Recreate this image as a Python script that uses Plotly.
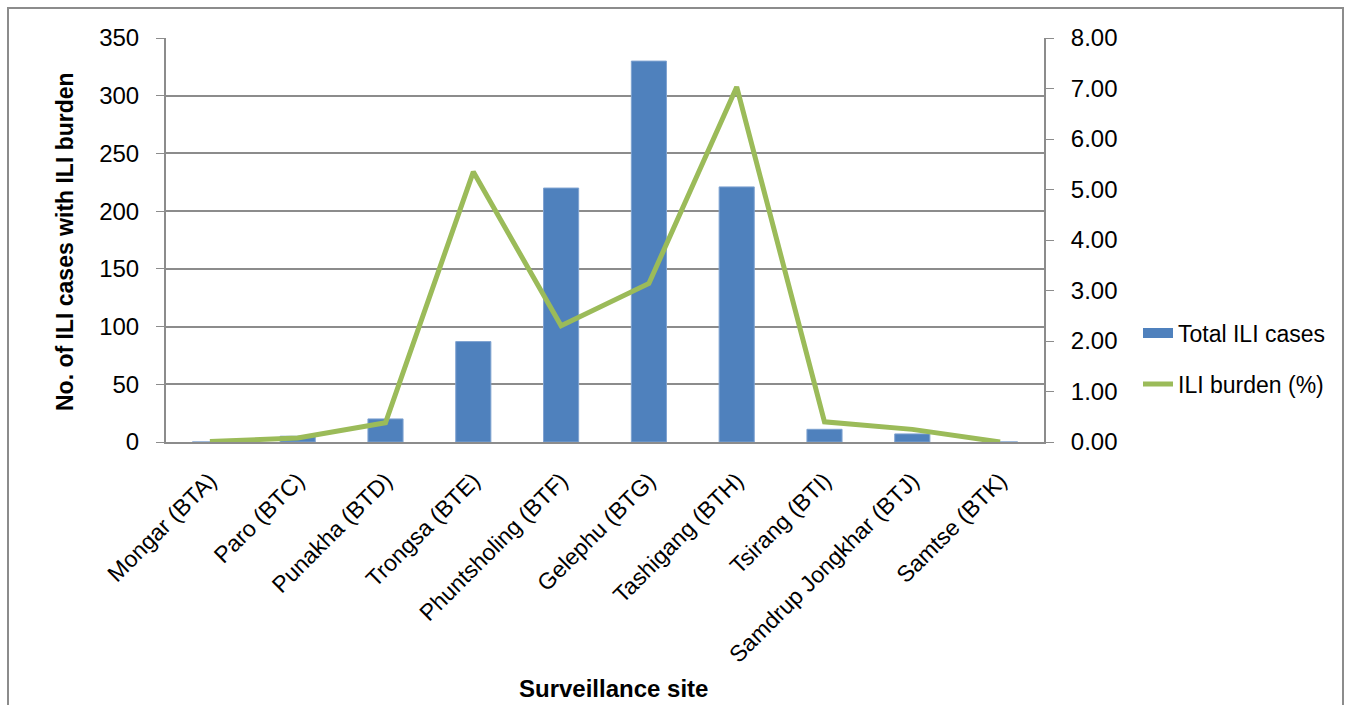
import plotly.graph_objects as go

sites = ["Mongar (BTA)", "Paro (BTC)", "Punakha (BTD)", "Trongsa (BTE)",
         "Phuntsholing (BTF)", "Gelephu (BTG)", "Tashigang (BTH)",
         "Tsirang (BTI)", "Samdrup Jongkhar (BTJ)", "Samtse (BTK)"]
total_cases = [0, 5, 20, 87, 220, 330, 221, 11, 7, 0]
burden_pct = [0.01, 0.08, 0.38, 5.35, 2.30, 3.14, 7.03, 0.40, 0.25, 0.0]

left_ticks = [0, 50, 100, 150, 200, 250, 300, 350]
right_ticks = [0, 1, 2, 3, 4, 5, 6, 7, 8]

W, H = 1351, 705
L, R, T, B = 166, 1044, 38, 442
FONT = "Liberation Sans, Arial, sans-serif"
GRID = "#8c8c8c"
BLUE = "#4F81BD"
GREEN = "#9BBB59"

pw, ph = R - L, B - T
def px_x(p):
    return (p - L) / pw
def px_y(p):
    return (B - p) / ph

fig = go.Figure()
fig.add_trace(go.Bar(
    x=sites, y=total_cases, name="Total ILI cases",
    marker=dict(color=BLUE, line=dict(color="#7FA3D1", width=1)),
    width=0.4, yaxis="y", showlegend=False,
))
fig.add_trace(go.Scatter(
    x=sites, y=burden_pct, name="ILI burden (%)", mode="lines",
    line=dict(color=GREEN, width=5), yaxis="y2", legend="legend2",
))
# legend key for the bars: a wide filled swatch
fig.add_trace(go.Scatter(
    x=[None], y=[None], name="Total ILI cases", mode="lines",
    line=dict(color=BLUE, width=15), legend="legend",
))

legend_common = dict(xanchor="left", yanchor="middle", font=dict(size=23),
                     bgcolor="rgba(0,0,0,0)", itemwidth=30)

fig.update_layout(
    width=W, height=H,
    margin=dict(l=L, r=W - R, t=T, b=H - B),
    paper_bgcolor="white", plot_bgcolor="white",
    font=dict(family=FONT, size=22, color="#000000"),
    showlegend=True,
    legend=dict(x=px_x(1138), y=px_y(333), **legend_common),
    legend2=dict(x=px_x(1138), y=px_y(384), **legend_common),
    xaxis=dict(
        showline=True, linecolor=GRID, linewidth=2,
        ticks="", tickangle=-45, tickfont=dict(size=23),
        ticklabelstandoff=14,
        showgrid=False, range=[-0.5, 9.5],
    ),
    yaxis=dict(
        range=[0, 350], tickvals=left_ticks,
        showgrid=True, gridcolor=GRID, gridwidth=2,
        showline=True, linecolor=GRID, linewidth=2,
        ticks="outside", tickcolor=GRID, ticklen=8,
        tickfont=dict(size=24), ticklabelstandoff=12,
        zeroline=False,
    ),
    yaxis2=dict(
        range=[0, 8], tickvals=right_ticks, tickformat=".2f",
        overlaying="y", side="right",
        showgrid=False, showline=True, linecolor=GRID, linewidth=2,
        ticks="outside", tickcolor=GRID, ticklen=8,
        tickfont=dict(size=24), ticklabelstandoff=12, zeroline=False,
    ),
    annotations=[
        dict(text="<b>No. of ILI cases with ILI burden</b>", textangle=-90,
             xref="paper", yref="paper", x=px_x(65), y=px_y(242),
             xanchor="center", yanchor="middle", showarrow=False,
             font=dict(size=23)),
        dict(text="<b>Surveillance site</b>",
             xref="paper", yref="paper", x=px_x(613), y=px_y(688),
             xanchor="center", yanchor="middle", showarrow=False,
             font=dict(size=24)),
    ],
    shapes=[dict(type="rect", xref="paper", yref="paper",
                 x0=px_x(8), x1=px_x(1343), y0=px_y(712), y1=px_y(8),
                 line=dict(color="#8c8c8c", width=2), fillcolor="rgba(0,0,0,0)",
                 layer="below")],
)

fig.write_html("out.html")
